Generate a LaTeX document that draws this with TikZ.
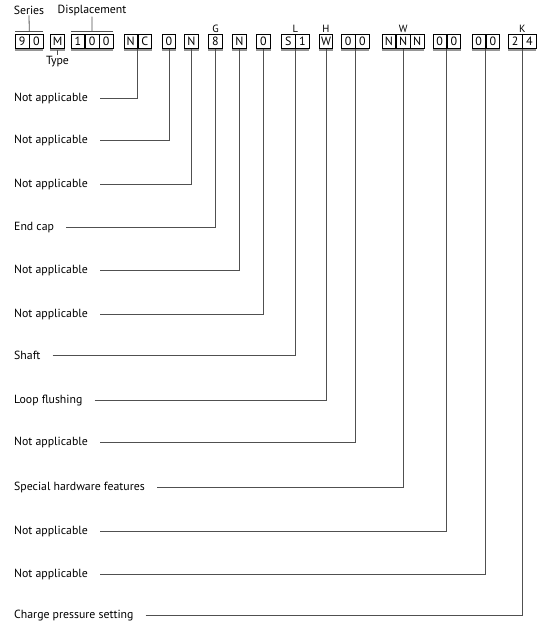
\documentclass[tikz,border=0pt]{standalone}
\usepackage{fontspec}
\setmainfont{PT Sans}
\usetikzlibrary{positioning,calc}
\definecolor{LeadGray}{RGB}{80,80,80}
\definecolor{ShadeGray}{RGB}{150,150,150}
\tikzset{
  cell/.style={draw=black,line width=0.6pt,minimum width=13.5pt,minimum height=14pt,inner sep=0pt,font=\fontsize{12}{12}\selectfont},
  lbl/.style={anchor=west,inner xsep=0pt,font=\fontsize{11.8}{13}\selectfont},
  hdr/.style={inner sep=1pt,font=\fontsize{11.8}{13}\selectfont},
  key/.style={inner sep=0.5pt,font=\fontsize{10.5}{11}\selectfont},
  lead/.style={draw=LeadGray,line width=0.8pt},
  shade/.style={draw=ShadeGray,line width=1.3pt},
}

\begin{document}
\begin{tikzpicture}[x=1pt,y=-1pt]
    \useasboundingbox (0,0) rectangle (540,638);
    % model code cells
    \node[cell] (s1) at (22.25,41.5) {9};
    \node[cell,right=0pt of s1] (s2) {0};
    \node[cell] (ty) at (57.5,41.5) {M};
    \node[cell] (d1) at (78,41.5) {1};
    \node[cell,right=0pt of d1] (d2) {0};
    \node[cell,right=0pt of d2] (d3) {0};
    \node[cell] (nc1) at (130.75,41.5) {N};
    \node[cell,right=0pt of nc1] (nc2) {C};
    \node[cell] (na2) at (169,41.5) {0};
    \node[cell] (na3) at (191.5,41.5) {N};
    \node[cell] (ec) at (215.5,41.5) {8};
    \node[cell] (na5) at (239.5,41.5) {N};
    \node[cell] (na6) at (263.5,41.5) {0};
    \node[cell] (sh1) at (288.25,41.5) {S};
    \node[cell,right=0pt of sh1] (sh2) {1};
    \node[cell] (lf) at (326,41.5) {W};
    \node[cell] (z1) at (348.25,41.5) {0};
    \node[cell,right=0pt of z1] (z2) {0};
    \node[cell] (hw1) at (389,41.5) {N};
    \node[cell,right=0pt of hw1] (hw2) {N};
    \node[cell,right=0pt of hw2] (hw3) {N};
    \node[cell] (y1) at (439.75,41.5) {0};
    \node[cell,right=0pt of y1] (y2) {0};
    \node[cell] (x1) at (478.75,41.5) {0};
    \node[cell,right=0pt of x1] (x2) {0};
    \node[cell] (cp1) at (515.25,41.5) {2};
    \node[cell,right=0pt of cp1] (cp2) {4};
    % shading under the groups
    \draw[shade] ([yshift=-1.2pt]s1.south west) -- ([yshift=-1.2pt]s2.south east);
    \draw[shade] ([yshift=-1.2pt]ty.south west) -- ([yshift=-1.2pt]ty.south east);
    \draw[shade] ([yshift=-1.2pt]d1.south west) -- ([yshift=-1.2pt]d3.south east);
    \draw[shade] ([yshift=-1.2pt]nc1.south west) -- ([yshift=-1.2pt]nc2.south east);
    \draw[shade] ([yshift=-1.2pt]na2.south west) -- ([yshift=-1.2pt]na2.south east);
    \draw[shade] ([yshift=-1.2pt]na3.south west) -- ([yshift=-1.2pt]na3.south east);
    \draw[shade] ([yshift=-1.2pt]ec.south west) -- ([yshift=-1.2pt]ec.south east);
    \draw[shade] ([yshift=-1.2pt]na5.south west) -- ([yshift=-1.2pt]na5.south east);
    \draw[shade] ([yshift=-1.2pt]na6.south west) -- ([yshift=-1.2pt]na6.south east);
    \draw[shade] ([yshift=-1.2pt]sh1.south west) -- ([yshift=-1.2pt]sh2.south east);
    \draw[shade] ([yshift=-1.2pt]lf.south west) -- ([yshift=-1.2pt]lf.south east);
    \draw[shade] ([yshift=-1.2pt]z1.south west) -- ([yshift=-1.2pt]z2.south east);
    \draw[shade] ([yshift=-1.2pt]hw1.south west) -- ([yshift=-1.2pt]hw3.south east);
    \draw[shade] ([yshift=-1.2pt]y1.south west) -- ([yshift=-1.2pt]y2.south east);
    \draw[shade] ([yshift=-1.2pt]x1.south west) -- ([yshift=-1.2pt]x2.south east);
    \draw[shade] ([yshift=-1.2pt]cp1.south west) -- ([yshift=-1.2pt]cp2.south east);
    % headers
    \node[hdr] (series) at (29,10) {Series};
    \node[hdr] (disp) at (92,10) {Displacement};
    \node[hdr] (type) at (57.5,62) {Type};
    \node[key,above=1pt of ec] (kg) {G};
    \node[key,above=1pt of sh1.north east] (kl) {L};
    \node[key,above=1pt of lf] (kh) {H};
    \node[key,above=1pt of hw2] (kw) {W};
    \node[key,above=1pt of cp2.north west] (kk) {K};
    \draw[lead] ([yshift=2.5pt]s1.north west) -- ([yshift=2.5pt]s2.north east);
    \draw[lead] (series.south) -- ([yshift=2.5pt]s1.north east);
    \draw[lead] ([yshift=2.5pt]d1.north west) -- ([yshift=2.5pt]d3.north east);
    \draw[lead] (disp.south) -- ([yshift=2.5pt]d2.north);
    \draw[lead] ([yshift=-1.2pt]ty.south) -- (type.north);
    % option labels
    \node[lbl] (l1) at (14,98.5) {Not applicable};
    \node[lbl] (l2) at (14,140.5) {Not applicable};
    \node[lbl] (l3) at (14,184.5) {Not applicable};
    \node[lbl] (l4) at (14,227.5) {End cap};
    \node[lbl] (l5) at (14,270.5) {Not applicable};
    \node[lbl] (l6) at (14,314.5) {Not applicable};
    \node[lbl] (l7) at (14,355.5) {Shaft};
    \node[lbl] (l8) at (14,400.5) {Loop flushing};
    \node[lbl] (l9) at (14,442.5) {Not applicable};
    \node[lbl] (l10) at (14,487.5) {Special hardware features};
    \node[lbl] (l11) at (14,531.5) {Not applicable};
    \node[lbl] (l12) at (14,574.5) {Not applicable};
    \node[lbl] (l13) at (14,615.5) {Charge pressure setting};
    % leaders
    \draw[lead] ([xshift=12pt]l1.east) -| (nc1.south east);
    \draw[lead] ([xshift=12pt]l2.east) -| (na2.south);
    \draw[lead] ([xshift=12pt]l3.east) -| (na3.south);
    \draw[lead] ([xshift=12pt]l4.east) -| (ec.south);
    \draw[lead] ([xshift=12pt]l5.east) -| (na5.south);
    \draw[lead] ([xshift=12pt]l6.east) -| (na6.south);
    \draw[lead] ([xshift=12pt]l7.east) -| (sh1.south east);
    \draw[lead] ([xshift=12pt]l8.east) -| (lf.south);
    \draw[lead] ([xshift=12pt]l9.east) -| (z1.south east);
    \draw[lead] ([xshift=12pt]l10.east) -| (hw2.south);
    \draw[lead] ([xshift=12pt]l11.east) -| (y1.south east);
    \draw[lead] ([xshift=12pt]l12.east) -| (x1.south east);
    \draw[lead] ([xshift=12pt]l13.east) -| (cp1.south east);
  \end{tikzpicture}
\end{document}
